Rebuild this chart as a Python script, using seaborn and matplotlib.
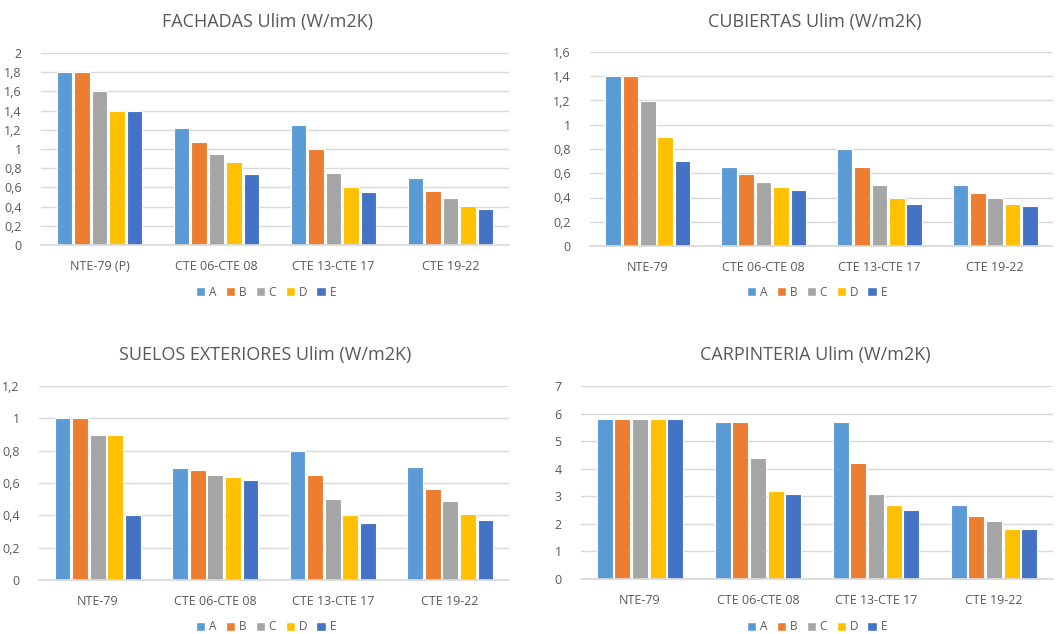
import pandas as pd
import numpy as np
import matplotlib
matplotlib.use("Agg")
import matplotlib.pyplot as plt
import seaborn as sns
from matplotlib.ticker import FuncFormatter, MultipleLocator
from matplotlib.patches import Patch

series = ["A", "B", "C", "D", "E"]
colors = ["#5B9BD5", "#ED7D31", "#A5A5A5", "#FFC000", "#4472C4"]

cats_fachadas = ["NTE-79 (P)", "CTE 06-CTE 08", "CTE 13-CTE 17", "CTE 19-22"]
cats_other = ["NTE-79", "CTE 06-CTE 08", "CTE 13-CTE 17", "CTE 19-22"]

# values per category, in order A..E
fachadas = [
    [1.8, 1.8, 1.6, 1.4, 1.4],
    [1.22, 1.07, 0.95, 0.86, 0.74],
    [1.25, 1.0, 0.75, 0.6, 0.55],
    [0.7, 0.56, 0.49, 0.41, 0.37],
]
cubiertas = [
    [1.4, 1.4, 1.2, 0.9, 0.7],
    [0.65, 0.59, 0.53, 0.49, 0.46],
    [0.8, 0.65, 0.5, 0.4, 0.35],
    [0.5, 0.44, 0.4, 0.35, 0.33],
]
suelos = [
    [1.0, 1.0, 0.9, 0.9, 0.4],
    [0.69, 0.68, 0.65, 0.64, 0.62],
    [0.8, 0.65, 0.5, 0.4, 0.35],
    [0.7, 0.56, 0.49, 0.41, 0.37],
]
carpinteria = [
    [5.8, 5.8, 5.8, 5.8, 5.8],
    [5.7, 5.7, 4.4, 3.2, 3.1],
    [5.7, 4.2, 3.1, 2.7, 2.5],
    [2.7, 2.3, 2.1, 1.8, 1.8],
]

sns.set_theme(style="white")
plt.rcParams["font.family"] = ["Open Sans", "DejaVu Sans"]
TXT = "#595959"

W, H = 1059, 634
fig = plt.figure(figsize=(W / 100, H / 100), dpi=100)


def to_long(cats, vals):
    rows = []
    for c, row in zip(cats, vals):
        for s, v in zip(series, row):
            rows.append({"cat": c, "serie": s, "val": v})
    return pd.DataFrame(rows)


def comma(v, pos):
    if abs(v - round(v)) < 1e-9:
        return str(int(round(v)))
    return ("%.1f" % v).replace(".", ",")


def panel(box, cats, vals, ymax, step, title, title_xy, legend_xy):
    l, r, t, b = box
    ax = fig.add_axes([l / W, 1 - b / H, (r - l) / W, (b - t) / H])
    df = to_long(cats, vals)
    sns.barplot(data=df, x="cat", y="val", hue="serie", palette=colors,
                saturation=1, width=0.75, gap=0.1, edgecolor="white",
                linewidth=0.8, legend=False, ax=ax)
    ax.set_ylim(0, ymax)
    ax.set_xlim(-0.5, len(cats) - 0.5)
    ax.yaxis.set_major_locator(MultipleLocator(step))
    ax.yaxis.set_major_formatter(FuncFormatter(comma))
    ax.grid(axis="y", color="#D9D9D9", linewidth=1)
    ax.set_axisbelow(True)
    for s in ["top", "right", "left"]:
        ax.spines[s].set_visible(False)
    ax.spines["bottom"].set_color("#D9D9D9")
    ax.tick_params(axis="both", length=0, labelsize=9, colors=TXT)
    ax.tick_params(axis="x", pad=11)
    ax.tick_params(axis="y", pad=14)
    ax.set_xlabel("")
    ax.set_ylabel("")
    fig.text(title_xy[0] / W, 1 - title_xy[1] / H, title, ha="center",
             va="center", fontsize=13, color=TXT)
    handles = [Patch(facecolor=c, label=s) for c, s in zip(colors, series)]
    fig.legend(handles=handles, loc="center",
               bbox_to_anchor=(legend_xy[0] / W, 1 - legend_xy[1] / H),
               ncol=5, frameon=False, fontsize=8.5, handlelength=0.8,
               handleheight=0.8, handletextpad=0.3, columnspacing=0.8,
               labelcolor=TXT)


panel((41, 509, 53, 245), cats_fachadas, fachadas, 2.0, 0.2,
      "FACHADAS Ulim (W/m2K)", (268, 22), (266, 292))
panel((590, 1053, 52, 246), cats_other, cubiertas, 1.6, 0.2,
      "CUBIERTAS Ulim (W/m2K)", (815, 22), (817, 292))
panel((39, 509, 386, 580), cats_other, suelos, 1.2, 0.2,
      "SUELOS EXTERIORES Ulim (W/m2K)", (265, 355), (266, 627))
panel((581, 1053, 386, 579), cats_other, carpinteria, 7, 1,
      "CARPINTERIA Ulim (W/m2K)", (815, 355), (817, 627))

fig.savefig("out.png", dpi=100, facecolor="white")
